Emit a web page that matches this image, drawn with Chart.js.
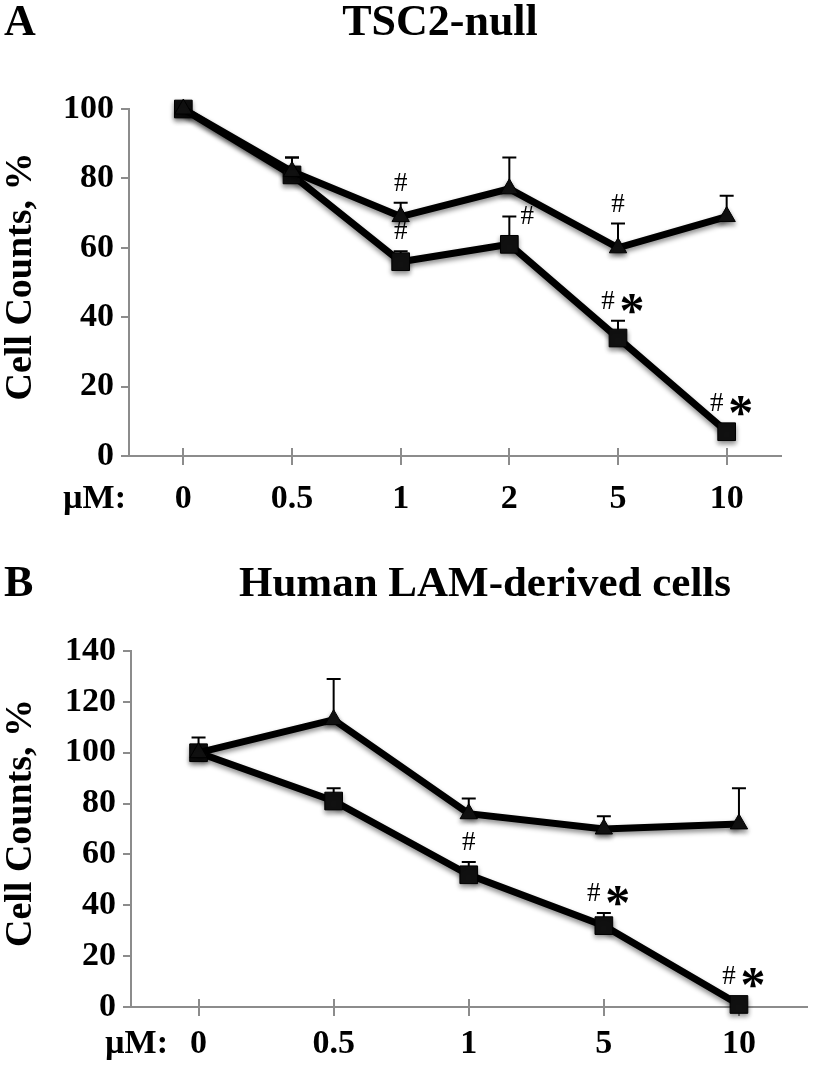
<!DOCTYPE html>
<html><head><meta charset="utf-8">
<script src="https://cdn.jsdelivr.net/npm/chart.js@4.4.0/dist/chart.umd.min.js"></script>
<style>
html,body{margin:0;padding:0;background:#fff;}
#wrap{position:relative;width:820px;height:1068px;overflow:hidden;}
canvas{position:absolute;left:0;}
</style></head><body>
<div id="wrap">
<canvas id="cA" width="820" height="534" style="top:0"></canvas>
<canvas id="cB" width="820" height="534" style="top:534px"></canvas>
</div>
<script>
// ---------- Panel A data ----------
const dosesA = ['0', '0.5', '1', '2', '5', '10'];
const squareA = [100, 81, 56, 61, 34, 7];
const squareErrA = [0, 5, 3, 8, 5, 0];
const triangleA = [100, 82, 69, 77, 60, 69];
const triangleErrA = [0, 4, 4, 9, 7, 6];
const squareSigA = ['', '', '#', '#', '#*', '#*'];
const squareSigSideA = ['', '', 'above', 'right', 'above', 'above'];
const triangleSigA = ['', '', '#', '', '#', ''];
const yMaxA = 100;

// ---------- Panel B data ----------
const dosesB = ['0', '0.5', '1', '5', '10'];
const squareB = [100, 81, 52, 32, 1];
const squareErrB = [6, 5, 5, 5, 0];
const triangleB = [100, 113, 76, 70, 72];
const triangleErrB = [0, 16, 6, 5, 14];
const squareSigB = ['', '', '#', '#*', '#*'];
const squareSigSideB = ['', '', 'above', 'above', 'above'];
const triangleSigB = ['', '', '', '', ''];
const yMaxB = 140;

const yStep = 20;
const unitLabel = 'µM:';
const yTitle = 'Cell Counts, %';

const SERIF = "'Liberation Serif','Times New Roman',Times,serif";
const AXIS_GRAY = '#8c8c8c';

function makePanel(id, cfg) {
  const TL = 9;
  const plugin = {
    id: 'panel_' + id,
    beforeDatasetsDraw(chart) {
      const ctx = chart.ctx, xs = chart.scales.x, ys = chart.scales.y;
      const axisY = ys.getPixelForValue(0);
      ctx.save();
      ctx.strokeStyle = AXIS_GRAY; ctx.lineWidth = 2;
      cfg.labels.forEach((l, i) => {
        const px = Math.round(xs.getPixelForValue(i));
        ctx.beginPath(); ctx.moveTo(px, axisY); ctx.lineTo(px, axisY - 8); ctx.stroke();
      });
      ctx.strokeStyle = '#000'; ctx.lineWidth = 2;
      cfg.series.forEach(s => {
        s.values.forEach((v, i) => {
          const e = s.errors[i]; if (!e) return;
          const px = xs.getPixelForValue(i), py = ys.getPixelForValue(v), pe = ys.getPixelForValue(v + e);
          ctx.beginPath(); ctx.moveTo(px, py); ctx.lineTo(px, pe);
          ctx.moveTo(px - 7, pe); ctx.lineTo(px + 7, pe); ctx.stroke();
        });
      });
      ctx.restore();
      ctx.save();
      ctx.shadowColor = 'rgba(0,0,0,0.45)'; ctx.shadowBlur = 5; ctx.shadowOffsetY = 3;
    },
    afterDatasetsDraw(chart) { chart.ctx.restore(); },
    afterDraw(chart) {
      const ctx = chart.ctx, xs = chart.scales.x, ys = chart.scales.y;
      ctx.save();
      ctx.fillStyle = '#000';
      ctx.textBaseline = 'alphabetic';
      ctx.font = `bold 44px ${SERIF}`;
      ctx.textAlign = 'left';
      ctx.fillText(cfg.letter, 4, cfg.titleBase);
      ctx.font = `bold ${cfg.titleSize}px ${SERIF}`;
      ctx.textAlign = 'center';
      ctx.fillText(cfg.title, cfg.titleX, cfg.titleBase);
      ctx.save();
      ctx.translate(21, (ys.top + ys.bottom) / 2 - 6);
      ctx.rotate(-Math.PI / 2);
      ctx.font = `bold 38px ${SERIF}`;
      ctx.textAlign = 'center'; ctx.textBaseline = 'middle';
      ctx.fillText(yTitle, 0, 0);
      ctx.restore();
      ctx.font = `bold 34px ${SERIF}`;
      ctx.textAlign = 'right'; ctx.textBaseline = 'middle';
      const labY = xs.top + TL + cfg.xPad + 34 * 1.2 / 2;
      ctx.fillText(unitLabel, cfg.unitRight, labY);
      cfg.series.forEach(s => {
        s.sig.forEach((t, i) => {
          if (!t) return;
          const v = s.values[i], e = s.errors[i];
          const px = xs.getPixelForValue(i);
          const py = ys.getPixelForValue(v);
          const capY = e ? ys.getPixelForValue(v + e) : py - 9;
          const side = s.side ? s.side[i] : 'above';
          if (side === 'right') {
            drawSig(ctx, t, px + 18, capY);
          } else {
            drawSig(ctx, t, px, capY - 19);
          }
        });
      });
      ctx.restore();
    }
  };
  function drawSig(ctx, t, cx, cy) {
    ctx.textAlign = 'center';
    if (t === '#') {
      ctx.font = `27px ${SERIF}`; ctx.textBaseline = 'middle';
      ctx.fillText('#', cx, cy);
    } else {
      ctx.font = `27px ${SERIF}`; ctx.textBaseline = 'middle';
      ctx.fillText('#', cx - 10, cy);
      ctx.font = `bold 50px ${SERIF}`; ctx.textBaseline = 'alphabetic';
      ctx.fillText('*', cx + 14, cy + 25);
    }
  }

  const tickFont = { family: SERIF, size: 34, weight: 'bold' };
  const ds = (vals, style, r) => ({
    data: vals, borderColor: '#000', backgroundColor: '#111', borderWidth: 7,
    pointStyle: style, pointRadius: r, pointBorderWidth: 1, pointBorderColor: '#000',
    pointBackgroundColor: '#111', clip: false, tension: 0, fill: false
  });

  return new Chart(document.getElementById(id), {
    type: 'line',
    data: {
      labels: cfg.labels,
      datasets: [
        ds(cfg.series[0].values, 'triangle', 10),
        ds(cfg.series[1].values, 'rect', 12.5)
      ]
    },
    options: {
      responsive: false, animation: false, events: [],
      layout: { padding: { top: cfg.top, right: cfg.right, bottom: 0, left: 0 } },
      plugins: { legend: { display: false }, tooltip: { enabled: false }, title: { display: false } },
      scales: {
        x: {
          offset: true,
          grid: { display: true, drawOnChartArea: false, drawTicks: true, tickLength: TL, color: AXIS_GRAY, lineWidth: 2 },
          border: { display: true, color: AXIS_GRAY, width: 2 },
          ticks: { color: '#000', font: tickFont, padding: cfg.xPad, maxRotation: 0, autoSkip: false },
          afterFit(s) { s.height = cfg.xHeight; }
        },
        y: {
          min: 0, max: cfg.yMax,
          grid: { display: true, drawOnChartArea: false, drawTicks: true, tickLength: 8, color: AXIS_GRAY, lineWidth: 2 },
          border: { display: true, color: AXIS_GRAY, width: 2 },
          ticks: { stepSize: yStep, color: '#000', font: tickFont, padding: 7 },
          afterFit(s) { s.width = cfg.yWidth; }
        }
      }
    },
    plugins: [plugin]
  });
}

makePanel('cA', {
  letter: 'A', title: 'TSC2-null', titleX: 440, titleBase: 35, titleSize: 44,
  labels: dosesA, yMax: yMaxA,
  series: [
    { values: triangleA, errors: triangleErrA, sig: triangleSigA },
    { values: squareA, errors: squareErrA, sig: squareSigA, side: squareSigSideA }
  ],
  top: 109, right: 39, yWidth: 129, xHeight: 534 - 456, xPad: 14, unitRight: 126
});

makePanel('cB', {
  letter: 'B', title: 'Human LAM-derived cells', titleX: 485, titleBase: 62, titleSize: 43,
  labels: dosesB, yMax: yMaxB,
  series: [
    { values: triangleB, errors: triangleErrB, sig: triangleSigB },
    { values: squareB, errors: squareErrB, sig: squareSigB, side: squareSigSideB }
  ],
  top: 117, right: 1, yWidth: 131, xHeight: 534 - 473, xPad: 8, unitRight: 168
});
</script>
</body></html>
